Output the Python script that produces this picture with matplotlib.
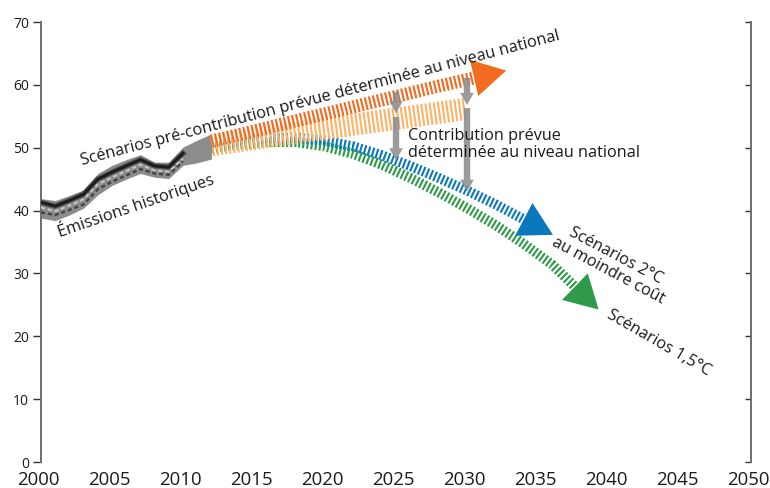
import numpy as np
import matplotlib.pyplot as plt
from matplotlib.transforms import ScaledTranslation

plt.rcParams['font.family'] = ['Open Sans', 'DejaVu Sans']
plt.rcParams['lines.scale_dashes'] = False

# historical emissions band (GtCO2e)
hist_years = [2000, 2001, 2002, 2003, 2004, 2005, 2006, 2007, 2008, 2009, 2010, 2011, 2012]
hist_upper = [41.9, 41.6, 42.4, 43.3, 45.9, 47.2, 48.1, 48.9, 47.7, 47.7, 50.1, 51.2, 52.2]
hist_lower = [38.8, 38.4, 39.3, 40.4, 42.5, 44.0, 45.0, 45.9, 45.3, 45.1, 47.2, 47.6, 48.2]
line_years = [2000, 2001, 2002, 2003, 2004, 2005, 2006, 2007, 2008, 2009, 2010]
hist_solid = [41.3, 40.7, 41.6, 42.6, 45.0, 46.1, 47.1, 48.1, 47.1, 46.9, 49.1]
hist_light = [40.5, 39.9, 40.8, 41.8, 44.2, 45.3, 46.3, 47.3, 46.4, 46.2, 48.3]
hist_dashed = [39.7, 39.3, 40.1, 41.0, 43.4, 44.6, 45.6, 46.6, 45.9, 45.7, 47.8]

# scenario pathways
pre_years = [2012, 2016, 2020, 2024, 2028, 2030.5]
pre_vals = [51.0, 53.2, 55.4, 57.6, 59.8, 61.1]
indc_years = [2012, 2018, 2024, 2030]
indc_vals = [50.4, 52.4, 54.3, 56.2]
two_years = [2012, 2014, 2016, 2018, 2020, 2022, 2024, 2026, 2028, 2030, 2032, 2034]
two_vals = [50.4, 51.0, 51.5, 51.6, 51.1, 50.2, 48.8, 47.1, 45.2, 43.2, 41.0, 38.6]
onefive_years = [2012, 2014, 2016, 2018, 2020, 2022, 2024, 2026, 2028, 2030, 2032, 2034, 2036, 2037.6]
onefive_vals = [49.9, 50.5, 50.9, 50.9, 50.2, 49.0, 47.3, 45.2, 42.9, 40.4, 37.7, 34.7, 31.4, 27.9]

# gap arrows
gap_years = [2025, 2030]
gap_a_start = [58.9, 61.1]
gap_a_end = [55.5, 56.8]
gap_b_start = [54.9, 56.3]
gap_b_end = [48.0, 43.0]

x_ticks = list(range(2000, 2051, 5))
y_ticks = list(range(0, 71, 10))

c_pre = '#f26b21'
c_indc = '#fdb266'
c_two = '#0a78bd'
c_one = '#2f9a47'
c_gray = '#8d8d8d'
c_text = '#1a1a1a'

fig = plt.figure(figsize=(7.7, 4.88), dpi=100)
ax = fig.add_axes([41 / 770, 26 / 488, 710 / 770, 440 / 488])
ax.set_xlim(2000, 2050)
ax.set_ylim(0, 70)


def band(xs, ys, color, lw, z):
    ax.plot(xs, ys, color=color, lw=lw, dashes=(1.5, 1.5), dash_capstyle='butt',
            solid_joinstyle='round', zorder=z)


def head(xs, ys, color, z, length=33, width=37):
    p1 = ax.transData.transform((xs[-2], ys[-2]))
    p2 = ax.transData.transform((xs[-1], ys[-1]))
    d = (p2 - p1) / np.hypot(*(p2 - p1))
    n = np.array([-d[1], d[0]])
    pts = np.array([p2 + n * width / 2, p2 + d * length, p2 - n * width / 2])
    pts = ax.transData.inverted().transform(pts)
    ax.fill(pts[:, 0], pts[:, 1], color=color, zorder=z, lw=0, clip_on=False)


# historical
ax.fill_between(hist_years, hist_lower, hist_upper, color='#8c8c8c', lw=0, zorder=2)
ax.plot(line_years, hist_solid, color='#5a5a5a', lw=4, zorder=3)
ax.plot(line_years, hist_solid, color='#1c1c1c', lw=2.2, zorder=3)
ax.plot(line_years, hist_light, color='#c8c8c8', lw=1.4, dashes=(3, 2), zorder=3)
ax.plot(line_years, hist_dashed, color='#444444', lw=1.8, dashes=(3, 2), zorder=3)

# scenarios
band(onefive_years, onefive_vals, c_one, 7.2, 2)
head(onefive_years, onefive_vals, c_one, 2.5)
band(two_years, two_vals, c_two, 7.2, 3)
head(two_years, two_vals, c_two, 3.5)
band(indc_years, indc_vals, c_indc, 16, 4)
band(pre_years, pre_vals, c_pre, 9.4, 5)
head(pre_years, pre_vals, c_pre, 5.5)

arrow_style = 'simple,head_length=0.62,head_width=0.7,tail_width=0.33'
for x, a0, a1, b0, b1 in zip(gap_years, gap_a_start, gap_a_end, gap_b_start, gap_b_end):
    for s, e in ((a0, a1), (b0, b1)):
        ax.annotate('', xy=(x, e), xytext=(x, s),
                    arrowprops=dict(arrowstyle=arrow_style, mutation_scale=14,
                                    color=c_gray, alpha=0.88, lw=0,
                                    shrinkA=0, shrinkB=0), zorder=7)

# labels
fs = 11.7
ax.text(2002.87, 47.2, 'Scénarios pré-contribution prévue déterminée au niveau national',
        rotation=14.7, rotation_mode='anchor', ha='left', va='baseline',
        fontsize=fs, color=c_text, zorder=8)
ax.text(2001.3, 35.7, 'Émissions historiques', rotation=19, rotation_mode='anchor',
        ha='left', va='baseline', fontsize=fs, color=c_text, zorder=8)
ax.text(2025.85, 53.1, 'Contribution prévue\ndéterminée au niveau national',
        ha='left', va='top', linespacing=1.1, fontsize=fs, color=c_text, zorder=8)
ax.text(2040.2, 31.6, 'Scénarios 2°C\nau moindre coût', rotation=-28,
        rotation_mode='anchor', ha='center', va='center', multialignment='center',
        linespacing=1.0, fontsize=fs, color=c_text, zorder=8)
ax.text(2043.5, 18.9, 'Scénarios 1,5°C', rotation=-30, rotation_mode='anchor',
        ha='center', va='center', fontsize=fs, color=c_text, zorder=8)

# axes styling
for s in ['top', 'bottom', 'right']:
    ax.spines[s].set_visible(False)
ax.spines['left'].set_color('#6e6e6e')
ax.spines['left'].set_linewidth(1.4)
ax.set_xticks(x_ticks)
ax.set_yticks(y_ticks)
ax.tick_params(axis='x', length=0, pad=6.5, labelsize=13.4, labelcolor=c_text)
ax.tick_params(axis='y', direction='out', length=5.5, width=1, color='#333333',
               pad=3, labelsize=10, labelcolor=c_text)
shift = ScaledTranslation(-3 / 100, 0, fig.dpi_scale_trans)
for lab in ax.get_xticklabels():
    lab.set_transform(lab.get_transform() + shift)

ax2 = ax.twinx()
ax2.set_ylim(0, 70)
ax2.set_yticks(y_ticks)
for s in ['top', 'bottom', 'left']:
    ax2.spines[s].set_visible(False)
ax2.spines['right'].set_color('#6e6e6e')
ax2.spines['right'].set_linewidth(1.4)
ax2.tick_params(axis='y', direction='in', length=4.5, width=1, color='#333333',
                labelright=False)

fig.savefig('out.png', dpi=100)
